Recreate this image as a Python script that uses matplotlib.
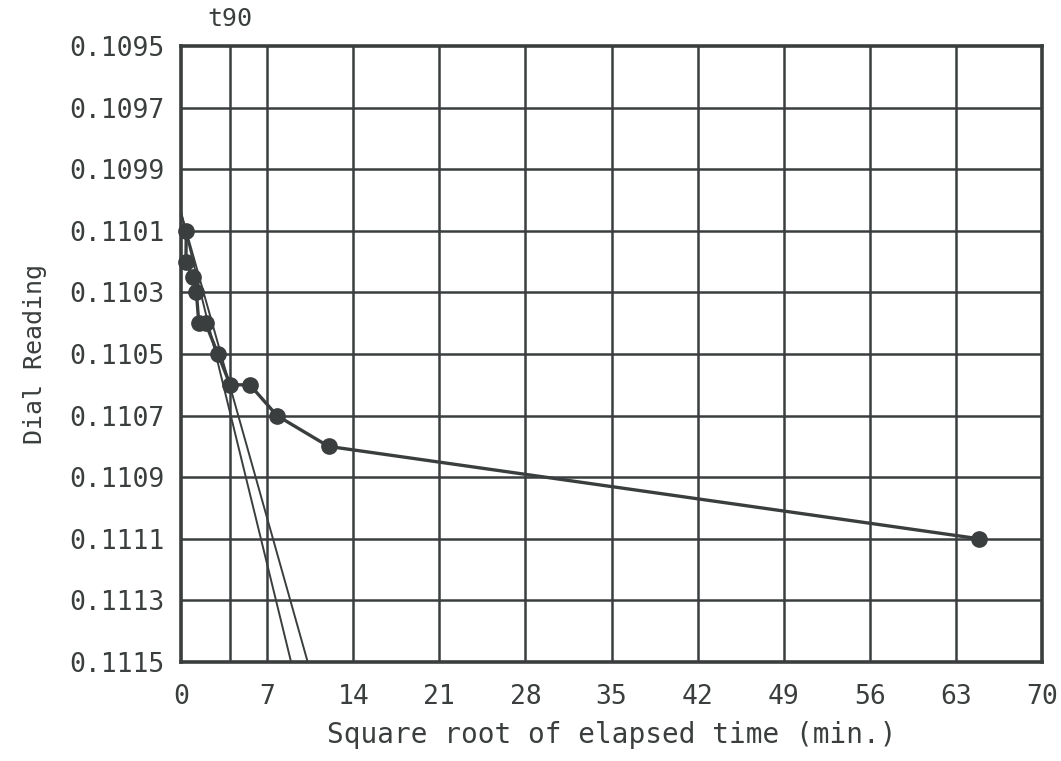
import matplotlib.pyplot as plt

# readings taken off the scanned sheet
sqrt_time = [0.43, 0.40, 0.95, 1.25, 1.45, 2.0, 3.0, 4.0, 5.6, 7.8, 12.0, 64.9]
dial_reading = [0.11010, 0.11020, 0.11025, 0.11030, 0.11040, 0.11040,
                0.11050, 0.11060, 0.11060, 0.11070, 0.11080, 0.11110]

# Taylor construction: fitted line and the 1.15x line, both from corrected zero
zero_reading = 0.11004
fit_line_x = [0, 8.95]
fit115_line_x = [0, 10.3]
line_end_reading = 0.1115
t90_root = 4.0

x_ticks = [0, 7, 14, 21, 28, 35, 42, 49, 56, 63, 70]
y_ticks = [0.1095, 0.1097, 0.1099, 0.1101, 0.1103, 0.1105,
           0.1107, 0.1109, 0.1111, 0.1113, 0.1115]
y_tick_labels = ["0.1095", "0.1097", "0.1099", "0.1101", "0.1103", "0.1105",
                 "0.1107", "0.1109", "0.1111", "0.1113", "0.1115"]

ink = "#3b3e3e"
font = "DejaVu Sans Mono"

fig = plt.figure(figsize=(10.61, 7.61), dpi=100)
W, H = 1061, 761
left, right, top, bottom = 181, 1042, 46, 662
ax = fig.add_axes([left / W, 1 - bottom / H, (right - left) / W, (bottom - top) / H])

ax.set_xlim(0, 70)
ax.set_ylim(0.1115, 0.1095)

# grid
for xv in x_ticks[1:-1] + [t90_root]:
    ax.axvline(xv, color=ink, lw=1.8, zorder=1)
for yv in y_ticks[1:-1]:
    ax.axhline(yv, color=ink, lw=1.8, zorder=1)

# construction lines
ax.plot(fit_line_x, [zero_reading, line_end_reading], color=ink, lw=1.4, zorder=2)
ax.plot(fit115_line_x, [zero_reading, line_end_reading], color=ink, lw=1.4, zorder=2)

# data
ax.plot(sqrt_time, dial_reading, color=ink, lw=2.4, marker="o", ms=11,
        markerfacecolor=ink, markeredgecolor=ink, zorder=3, clip_on=False)

for s in ax.spines.values():
    s.set_color(ink)
    s.set_linewidth(2.6)

ax.set_xticks(x_ticks)
ax.set_xticklabels([str(v) for v in x_ticks])
ax.set_yticks(y_ticks)
ax.set_yticklabels(y_tick_labels)
ax.tick_params(length=0, colors=ink, labelsize=19)
ax.tick_params(axis="x", pad=16)
ax.tick_params(axis="y", pad=12)
for lab in ax.get_xticklabels() + ax.get_yticklabels():
    lab.set_family(font)

ax.set_xlabel("Square root of elapsed time (min.)", fontsize=20, family=font,
              color=ink, labelpad=8)
ax.set_ylabel("Dial Reading", fontsize=18, family=font, color=ink, labelpad=16)

ax.text(t90_root, 0.10945, "t90", fontsize=18, family=font, color=ink,
        ha="center", va="bottom")

fig.savefig("out.png", dpi=100, facecolor="white")
